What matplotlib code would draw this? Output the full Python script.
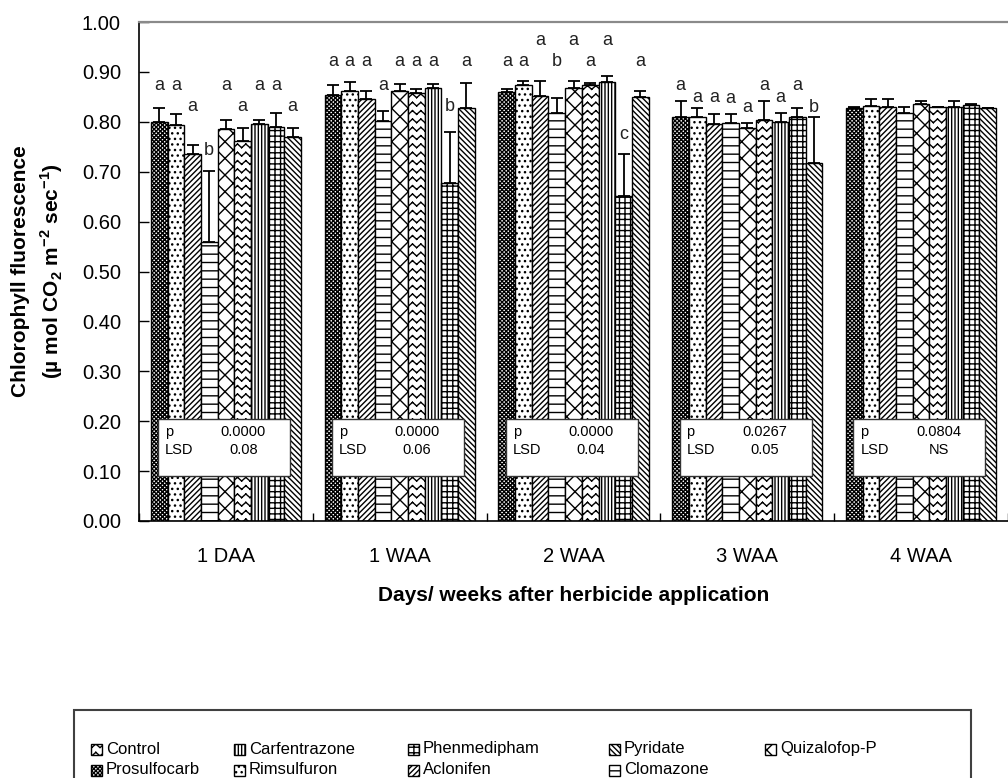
import warnings
import numpy as np
import matplotlib
matplotlib.use('Agg')
import matplotlib.pyplot as plt
from matplotlib import hatch as mhatch
from matplotlib.path import Path
from matplotlib.patches import Rectangle

warnings.filterwarnings('ignore')

periods = ['1 DAA', '1 WAA', '2 WAA', '3 WAA', '4 WAA']
treatments = ['Prosulfocarb', 'Rimsulfuron', 'Aclonifen', 'Clomazone', 'Quizalofop-P',
              'Control', 'Carfentrazone', 'Phenmedipham', 'Pyridate']

# mean values, one row per treatment, columns follow periods
means = [
    [0.800, 0.854, 0.860, 0.809, 0.827],
    [0.794, 0.862, 0.874, 0.809, 0.832],
    [0.735, 0.845, 0.852, 0.796, 0.829],
    [0.560, 0.802, 0.818, 0.797, 0.817],
    [0.786, 0.862, 0.868, 0.787, 0.836],
    [0.762, 0.857, 0.874, 0.804, 0.829],
    [0.796, 0.867, 0.880, 0.800, 0.830],
    [0.789, 0.677, 0.651, 0.809, 0.834],
    [0.769, 0.827, 0.850, 0.717, 0.827],
]
errors = [
    [0.027, 0.020, 0.005, 0.033, 0.003],
    [0.021, 0.018, 0.008, 0.018, 0.013],
    [0.019, 0.017, 0.030, 0.020, 0.016],
    [0.142, 0.020, 0.029, 0.019, 0.012],
    [0.018, 0.014, 0.014, 0.010, 0.006],
    [0.025, 0.008, 0.003, 0.038, 0.001],
    [0.008, 0.009, 0.012, 0.017, 0.012],
    [0.029, 0.103, 0.084, 0.018, 0.002],
    [0.018, 0.050, 0.012, 0.092, 0.000],
]
letters = [
    ['a', 'a', 'a', 'a', ''],
    ['a', 'a', 'a', 'a', ''],
    ['a', 'a', 'a', 'a', ''],
    ['b', 'a', 'b', 'a', ''],
    ['a', 'a', 'a', 'a', ''],
    ['a', 'a', 'a', 'a', ''],
    ['a', 'a', 'a', 'a', ''],
    ['a', 'b', 'c', 'a', ''],
    ['a', 'a', 'a', 'b', ''],
]
letter_y = [
    [0.872, 0.920, 0.920, 0.872, 0],
    [0.872, 0.920, 0.920, 0.849, 0],
    [0.830, 0.920, 0.963, 0.849, 0],
    [0.743, 0.872, 0.920, 0.846, 0],
    [0.872, 0.920, 0.963, 0.829, 0],
    [0.830, 0.920, 0.920, 0.872, 0],
    [0.872, 0.920, 0.963, 0.849, 0],
    [0.872, 0.830, 0.774, 0.872, 0],
    [0.830, 0.920, 0.920, 0.829, 0],
]
p_values = ['0.0000', '0.0000', '0.0000', '0.0267', '0.0804']
lsd_values = ['0.08', '0.06', '0.04', '0.05', 'NS']

hatches = {'Prosulfocarb': 'xxxxxxxx', 'Rimsulfuron': '...', 'Aclonifen': '//////',
           'Clomazone': '--', 'Quizalofop-P': 'xx', 'Control': 'zz',
           'Carfentrazone': '|||||', 'Phenmedipham': '+++', 'Pyridate': '\\' * 6}


# zig-zag hatch (not built into matplotlib); drawn as separate 2-point
# segments so the agg hatch fill step adds no area
class ZigZagHatch(mhatch.HatchPatternBase):
    def __init__(self, hatch, density):
        self.num_rows = int(hatch.count('z') * density)
        self.num_edges = 24
        self.num_vertices = self.num_rows * self.num_edges * 2

    def set_vertices_and_codes(self, vertices, codes):
        xs = np.linspace(0, 1, self.num_edges + 1)
        amp = 0.22 / self.num_rows
        wave = np.where(np.arange(self.num_edges + 1) % 2 == 0, -amp, amp)
        k = 0
        for r in range(self.num_rows):
            y0 = (r + 0.5) / self.num_rows
            for e in range(self.num_edges):
                vertices[k] = (xs[e], y0 + wave[e])
                vertices[k + 1] = (xs[e + 1], y0 + wave[e + 1])
                codes[k] = Path.MOVETO
                codes[k + 1] = Path.LINETO
                k += 2


mhatch._hatch_types.append(ZigZagHatch)

plt.rcParams['font.family'] = ['Liberation Sans', 'DejaVu Sans']
plt.rcParams['mathtext.fontset'] = 'custom'
plt.rcParams['mathtext.rm'] = 'Liberation Sans'
plt.rcParams['mathtext.bf'] = 'Liberation Sans:bold'
plt.rcParams['hatch.linewidth'] = 1.0

W, H = 1008, 778
fig = plt.figure(figsize=(W / 100, H / 100), dpi=100)
ax = fig.add_axes([139 / W, 1 - 521 / H, 869 / W, 499 / H])

x = np.arange(len(periods))
width = 0.096
n = len(treatments)

for i, name in enumerate(treatments):
    xs = x + (i - (n - 1) / 2) * width
    err = np.array(errors[i])
    ax.bar(xs, means[i], width, yerr=[np.zeros_like(err), err],
           facecolor='white', edgecolor='black', linewidth=1.0,
           hatch=hatches[name], zorder=2,
           error_kw=dict(ecolor='black', elinewidth=1.3, capsize=4.5, capthick=1.3, zorder=3))
    for j in range(len(periods)):
        if letters[i][j]:
            ax.text(xs[j], letter_y[i][j], letters[i][j], ha='center', va='center',
                    fontsize=13, color='#222222', zorder=4)

# stats boxes
for j in range(len(periods)):
    ax.add_patch(Rectangle((x[j] - 0.39, 0.09), 0.76, 0.114, facecolor='white',
                           edgecolor='#333333', linewidth=1.0, zorder=5))
    ax.text(x[j] - 0.35, 0.178, 'p', fontsize=10.5, va='center', ha='left', zorder=6)
    ax.text(x[j] - 0.35, 0.142, 'LSD', fontsize=10.5, va='center', ha='left', zorder=6)
    ax.text(x[j] + 0.10, 0.178, p_values[j], fontsize=10.5, va='center', ha='center', zorder=6)
    ax.text(x[j] + 0.10, 0.142, lsd_values[j], fontsize=10.5, va='center', ha='center', zorder=6)

ax.set_xlim(-0.5, len(periods) - 0.5)
ax.set_ylim(0, 1.0)
ax.set_yticks(np.arange(0, 1.01, 0.1))
ax.set_yticklabels([f'{v:.2f}' for v in np.arange(0, 1.01, 0.1)])
ax.tick_params(axis='y', direction='in', length=7, width=1, labelsize=14.5, pad=13)

ax.set_xticks(np.arange(-0.5, len(periods), 1.0))
ax.set_xticklabels([])
ax.set_xticks(x, minor=True)
ax.set_xticklabels(periods, minor=True)
ax.tick_params(axis='x', which='major', direction='in', length=6, width=1)
ax.tick_params(axis='x', which='minor', length=0, labelsize=14.5, pad=19)

ax.spines['right'].set_visible(False)
ax.spines['top'].set_color('#8a8a8a')
ax.spines['top'].set_linewidth(1.6)
ax.spines['left'].set_linewidth(1.2)
ax.spines['bottom'].set_linewidth(1.2)

ax.set_xlabel('Days/ weeks after herbicide application', fontsize=15,
              fontweight='bold', labelpad=14)
ax.set_ylabel('Chlorophyll fluorescence\n'
              r'(µ mol CO$_\mathbf{2}$ m$^{\mathbf{-2}}$ sec$^{\mathbf{-1}}$)',
              fontsize=15, fontweight='bold', linespacing=1.4, labelpad=12)

# legend drawn in figure pixels
fig.patches.append(Rectangle((74 / W, -0.05), (971 - 74) / W, 1 - 710 / H + 0.05,
                             transform=fig.transFigure, facecolor='none',
                             edgecolor='#404040', linewidth=1.5))
legend_cols = [(91, ['Control', 'Prosulfocarb']),
               (234, ['Carfentrazone', 'Rimsulfuron']),
               (408, ['Phenmedipham', 'Aclonifen']),
               (609, ['Pyridate', 'Clomazone']),
               (765, ['Quizalofop-P'])]
rows_y = [749, 770]
for cx, names in legend_cols:
    for r, name in enumerate(names):
        cy = rows_y[r]
        fig.patches.append(Rectangle((cx / W, 1 - (cy + 5.5) / H), 11 / W, 11 / H,
                                     transform=fig.transFigure, facecolor='white',
                                     edgecolor='black', linewidth=1.0,
                                     hatch=hatches[name]))
        fig.text((cx + 15) / W, 1 - cy / H, name, fontsize=12, va='center', ha='left')

fig.savefig('out.png', dpi=100)
